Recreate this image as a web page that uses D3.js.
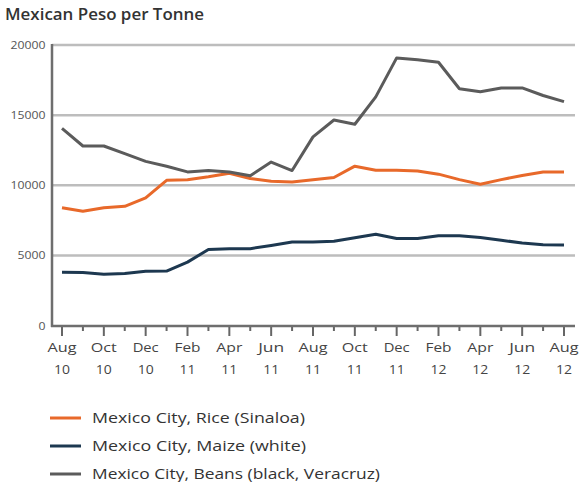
<!DOCTYPE html>
<html><head><meta charset="utf-8">
<script src="https://cdn.jsdelivr.net/npm/d3@7"></script>
<style>body{margin:0;background:#fff;} text{font-family:"Open Sans","Liberation Sans",sans-serif;}</style>
</head><body>
<svg id="c" width="579" height="482"></svg>
<script>
const months = ["Aug 10","Sep 10","Oct 10","Nov 10","Dec 10","Jan 11","Feb 11","Mar 11","Apr 11","May 11","Jun 11","Jul 11","Aug 11","Sep 11","Oct 11","Nov 11","Dec 11","Jan 12","Feb 12","Mar 12","Apr 12","May 12","Jun 12","Jul 12","Aug 12"];
const rice  = [8400,8150,8400,8500,9100,10350,10400,10600,10850,10480,10290,10240,10400,10550,11360,11070,11070,11020,10790,10400,10070,10400,10700,10950,10950];
const maize = [3800,3780,3650,3700,3870,3880,4520,5420,5480,5480,5710,5950,5950,6000,6260,6500,6200,6200,6400,6400,6270,6080,5880,5760,5740];
const beans = [14050,12800,12800,12250,11700,11350,10950,11050,10950,10680,11650,11050,13450,14650,14350,16300,19080,18950,18770,16880,16660,16940,16940,16400,15960];
const yTicks = [0,5000,10000,15000,20000];
const seriesNames = ["Mexico City, Rice (Sinaloa)","Mexico City, Maize (white)","Mexico City, Beans (black, Veracruz)"];
const seriesColors = ["#e8692a","#1d3850","#5b5b5b"];

const svg = d3.select("#c");
const x = d3.scalePoint().domain(months).range([62,564]);
const y = d3.scaleLinear().domain([0,20000]).range([325.5,45]);

svg.append("text").attr("x",5).attr("y",20).attr("font-size",15.5).attr("font-weight",600)
  .attr("fill","#333").attr("textLength",199).attr("lengthAdjust","spacingAndGlyphs")
  .text("Mexican Peso per Tonne");

// grid
svg.append("g").selectAll("line").data(yTicks.filter(d=>d>0)).join("line")
  .attr("x1",52).attr("x2",575).attr("y1",d=>y(d)).attr("y2",d=>y(d))
  .attr("stroke","#bdbdbd").attr("stroke-width",2.5);

// y labels
svg.append("g").selectAll("text").data(yTicks).join("text")
  .attr("x",45.5).attr("y",d=>y(d)+4).attr("text-anchor","end")
  .attr("font-size",11).attr("fill","#555")
  .attr("textLength",d=>String(d).length*7).attr("lengthAdjust","spacingAndGlyphs")
  .text(d=>d);

// x axis ticks
svg.append("g").selectAll("line").data(months).join("line")
  .attr("x1",d=>x(d)).attr("x2",d=>x(d)).attr("y1",326)
  .attr("y2",(d,i)=> i%2===0 ? 336 : 331)
  .attr("stroke","#666").attr("stroke-width",2);

const xl = svg.append("g").selectAll("text").data(months.filter((d,i)=>i%2===0)).join("text")
  .attr("text-anchor","middle").attr("font-size",13.5).attr("fill","#444");
xl.append("tspan").attr("x",d=>x(d)).attr("y",352)
  .attr("textLength",d=>d.startsWith("Aug")?29:26).attr("lengthAdjust","spacingAndGlyphs")
  .text(d=>d.split(" ")[0]);
xl.append("tspan").attr("x",d=>x(d)).attr("y",374)
  .attr("textLength",16).attr("lengthAdjust","spacingAndGlyphs")
  .text(d=>d.split(" ")[1]);

// axes lines
svg.append("line").attr("x1",52).attr("x2",52).attr("y1",44).attr("y2",327).attr("stroke","#6e6e6e").attr("stroke-width",2.5);
svg.append("line").attr("x1",51).attr("x2",575).attr("y1",326).attr("y2",326).attr("stroke","#6e6e6e").attr("stroke-width",2.5);

const line = d3.line().x((d,i)=>x(months[i])).y(d=>y(d));
[rice,maize,beans].forEach((s,k)=>{
  svg.append("path").datum(s).attr("d",line).attr("fill","none")
    .attr("stroke",seriesColors[k]).attr("stroke-width",3).attr("stroke-linejoin","round");
});

// legend
const ly = [418,446,474];
const lw = [213,214,288];
seriesNames.forEach((n,k)=>{
  svg.append("line").attr("x1",50).attr("x2",81).attr("y1",ly[k]).attr("y2",ly[k])
    .attr("stroke",seriesColors[k]).attr("stroke-width",3);
  svg.append("text").attr("x",92).attr("y",ly[k]+4.5).attr("font-size",15).attr("fill","#333")
    .attr("textLength",lw[k]).attr("lengthAdjust","spacingAndGlyphs").text(n);
});
</script>
</body></html>
